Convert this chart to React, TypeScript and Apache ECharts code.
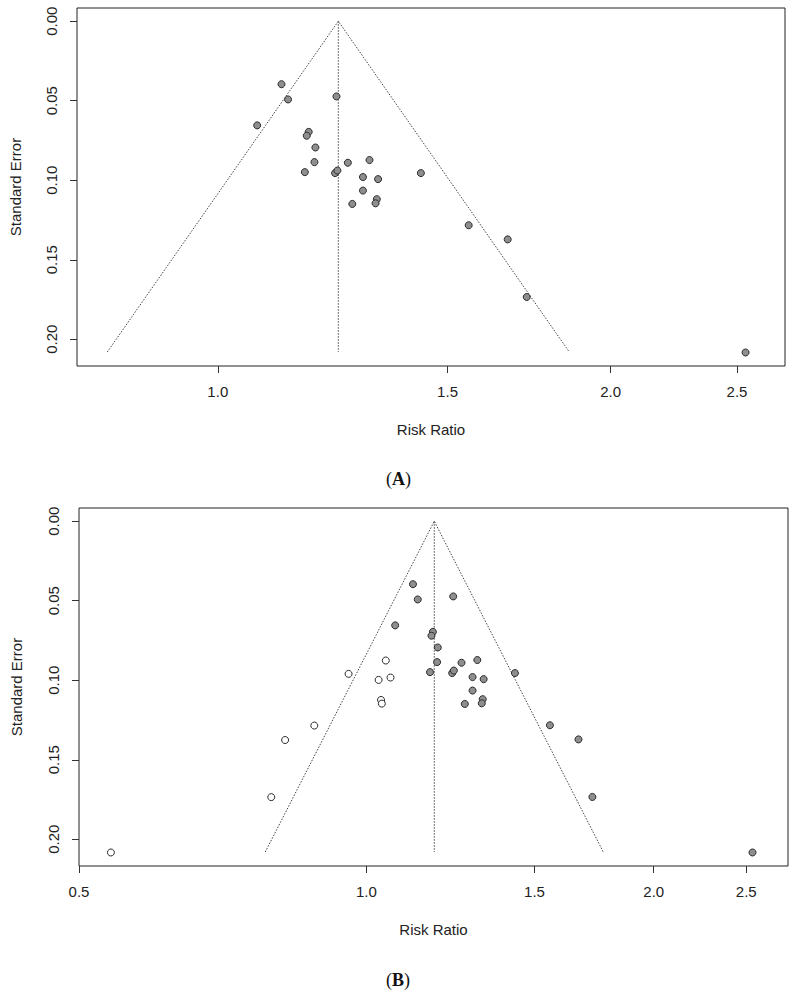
import React, { useEffect, useRef } from "react";
import * as echarts from "echarts";

// Observed studies: risk ratio and its standard error
const studyRR = [
  1.119, 1.132, 1.072, 1.233, 1.174, 1.17, 1.188, 1.186, 1.166, 1.23, 1.235, 1.258,
  1.307, 1.292, 1.327, 1.292, 1.268, 1.324, 1.321, 1.431, 1.557, 1.668, 1.725, 2.538,
];
const studySE = [
  0.0396, 0.0492, 0.0655, 0.0473, 0.0696, 0.072, 0.0794, 0.0886, 0.0949, 0.0955, 0.0939, 0.089,
  0.0873, 0.098, 0.0993, 0.1065, 0.1149, 0.1119, 0.1145, 0.0955, 0.1283, 0.1372, 0.1734, 0.2083,
];

// Studies imputed by trim-and-fill (panel B, open circles)
const filledRR = [0.54, 0.795, 0.822, 0.882, 0.958, 1.03, 1.048, 1.06, 1.036, 1.038];
const filledSE = [0.2083, 0.1735, 0.1376, 0.1285, 0.096, 0.0998, 0.0876, 0.0983, 0.1124, 0.1147];

// Pooled estimates (funnel centres) and the largest standard error
const pooledA = 1.237;
const pooledB = 1.178;
const seMax = 0.208;
const zCrit = 1.96;

// Axis ticks and ranges
const xTickLabels = ["0.5", "1.0", "1.5", "2.0", "2.5"];
const yTickLabels = ["0.00", "0.05", "0.10", "0.15", "0.20"];
const xRangeA = [0.78, 2.721];
const xRangeB = [0.5, 2.765];
const yRange = [-0.0083, 0.2168];

const FONT = "Liberation Sans, Arial, sans-serif";

function toPoints(rr: number[], se: number[]) {
  return rr.map((r, i) => [Math.log(r), se[i]]);
}

function funnel(center: number) {
  const c = Math.log(center);
  return [
    [c - zCrit * seMax, seMax],
    [c, 0],
    [c + zCrit * seMax, seMax],
  ];
}

function centreLine(center: number) {
  const c = Math.log(center);
  return [
    [c, 0],
    [c, seMax],
  ];
}

function xAxisFor(gridIndex: number, range: number[], nameGap: number) {
  const ticks = xTickLabels.map((t) => Math.log(parseFloat(t)));
  return {
    type: "value",
    gridIndex,
    min: Math.log(range[0]),
    max: Math.log(range[1]),
    name: "Risk Ratio",
    nameLocation: "middle",
    nameGap,
    nameTextStyle: { fontFamily: FONT, fontSize: 15, color: "#222" },
    axisLine: { show: false, onZero: false },
    axisTick: {
      show: true,
      length: 7,
      customValues: ticks,
      lineStyle: { color: "#333", width: 1 },
    },
    axisLabel: {
      customValues: ticks,
      margin: 18,
      fontFamily: FONT,
      fontSize: 15,
      color: "#222",
      formatter: (v: number) => Math.exp(v).toFixed(1),
    },
    splitLine: { show: false },
  };
}

function yAxisFor(gridIndex: number, nameGap: number) {
  const ticks = yTickLabels.map((t) => parseFloat(t));
  return {
    type: "value",
    gridIndex,
    inverse: true,
    min: yRange[0],
    max: yRange[1],
    name: "Standard Error",
    nameLocation: "middle",
    nameGap,
    nameTextStyle: { fontFamily: FONT, fontSize: 15, color: "#222" },
    axisLine: { show: false, onZero: false },
    axisTick: {
      show: true,
      length: 7,
      customValues: ticks,
      lineStyle: { color: "#333", width: 1 },
    },
    axisLabel: {
      customValues: ticks,
      rotate: 90,
      margin: 18,
      fontFamily: FONT,
      fontSize: 15,
      color: "#222",
      formatter: (v: number) => v.toFixed(2),
    },
    splitLine: { show: false },
  };
}

const dotted = { color: "#444", width: 1, type: [1.5, 1.5] };

function lineSeries(idx: number, data: number[][]) {
  return {
    type: "line",
    xAxisIndex: idx,
    yAxisIndex: idx,
    data,
    symbol: "none",
    silent: true,
    lineStyle: dotted,
    z: 1,
  };
}

function pointSeries(idx: number, data: number[][], fill: string) {
  return {
    type: "scatter",
    xAxisIndex: idx,
    yAxisIndex: idx,
    data,
    symbol: "circle",
    symbolSize: 7,
    itemStyle: { color: fill, borderColor: "#2a2a2a", borderWidth: 1, opacity: 1 },
    z: 3,
  };
}

export default function App() {
  const ref = useRef<HTMLDivElement>(null);

  useEffect(() => {
    if (!ref.current) return;
    const chart = echarts.init(ref.current, undefined, { renderer: "svg" });

    const gridBox = { show: true, borderColor: "#222", borderWidth: 1, backgroundColor: "transparent" };

    chart.setOption({
      animation: false,
      backgroundColor: "#ffffff",
      grid: [
        { ...gridBox, left: 76, top: 8, width: 709, height: 358 },
        { ...gridBox, left: 79, top: 508, width: 709, height: 358 },
      ],
      xAxis: [xAxisFor(0, xRangeA, 56), xAxisFor(1, xRangeB, 56)],
      yAxis: [yAxisFor(0, 54), yAxisFor(1, 55)],
      series: [
        lineSeries(0, funnel(pooledA)),
        lineSeries(0, centreLine(pooledA)),
        pointSeries(0, toPoints(studyRR, studySE), "#8e8e8e"),
        lineSeries(1, funnel(pooledB)),
        lineSeries(1, centreLine(pooledB)),
        pointSeries(1, toPoints(studyRR, studySE), "#8e8e8e"),
        pointSeries(1, toPoints(filledRR, filledSE), "#ffffff"),
      ],
      graphic: [
        {
          type: "text",
          left: 386,
          top: 470,
          style: {
            text: "{n|(}{b|A}{n|)}",
            rich: {
              n: { fontFamily: "Liberation Serif, serif", fontSize: 18, fill: "#111" },
              b: { fontFamily: "Liberation Serif, serif", fontSize: 18, fontWeight: "bold", fill: "#111" },
            },
          },
        },
        {
          type: "text",
          left: 386,
          top: 971,
          style: {
            text: "{n|(}{b|B}{n|)}",
            rich: {
              n: { fontFamily: "Liberation Serif, serif", fontSize: 18, fill: "#111" },
              b: { fontFamily: "Liberation Serif, serif", fontSize: 18, fontWeight: "bold", fill: "#111" },
            },
          },
        },
      ],
    });

    return () => chart.dispose();
  }, []);

  return (
    <div
      ref={ref}
      style={{ position: "absolute", left: 0, top: 0, width: 796, height: 995, background: "#fff" }}
    />
  );
}
